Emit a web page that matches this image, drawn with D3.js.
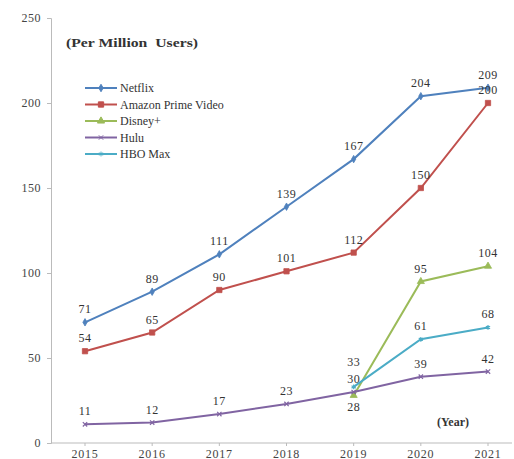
<!DOCTYPE html>
<html><head><meta charset="utf-8">
<script src="https://cdn.jsdelivr.net/npm/d3@7"></script>
<style>body{margin:0;background:#fff}svg{display:block}</style>
</head><body>
<svg id="c" width="514" height="459"></svg>
<script>
const years = ["2015","2016","2017","2018","2019","2020","2021"];
const netflix = [71, 89, 111, 139, 167, 204, 209];
const amazon = [54, 65, 90, 101, 112, 150, 200];
const disney = [null, null, null, null, 28, 95, 104];
const hulu = [11, 12, 17, 23, 30, 39, 42];
const hbomax = [null, null, null, null, 33, 61, 68];
const yTicks = [0, 50, 100, 150, 200, 250];
const seriesNames = ["Netflix", "Amazon Prime Video", "Disney+", "Hulu", "HBO Max"];

const series = [
  {name: seriesNames[0], values: netflix, color: "#4F81BD", marker: "diamond"},
  {name: seriesNames[1], values: amazon, color: "#C0504D", marker: "square"},
  {name: seriesNames[2], values: disney, color: "#9BBB59", marker: "triangle"},
  {name: seriesNames[3], values: hulu, color: "#8064A2", marker: "x"},
  {name: seriesNames[4], values: hbomax, color: "#4BACC6", marker: "star"}
];

const svg = d3.select("#c");
const font = "'Liberation Serif', 'Times New Roman', serif";
const fs = 12;
const x = d3.scalePoint().domain(years).range([85, 488]);
const y = d3.scaleLinear().domain([0, 250]).range([443, 18]);

// axes
const yAxis = svg.append("g").attr("transform", "translate(51,0)")
  .call(d3.axisLeft(y).tickValues(yTicks).tickSize(4).tickPadding(6));
yAxis.select(".domain").attr("stroke", "#bbb");
yAxis.selectAll(".tick line").attr("stroke", "#bbb");
yAxis.selectAll("text").attr("font-family", font).attr("font-size", fs).attr("fill", "#444")
  .attr("letter-spacing", 0.5);

const xg = svg.append("g").attr("transform", "translate(0,443)");
xg.append("line").attr("x1", 51).attr("x2", 512).attr("stroke", "#bbb");
xg.selectAll(".xt").data(years).join("line").attr("class", "xt")
  .attr("x1", d => x(d)).attr("x2", d => x(d)).attr("y1", 0).attr("y2", 3).attr("stroke", "#bbb");
xg.selectAll(".xl").data(years).join("text").attr("class", "xl")
  .attr("x", d => x(d)).attr("y", 14.5).attr("text-anchor", "middle")
  .attr("font-family", font).attr("font-size", fs).attr("letter-spacing", 0.8)
  .attr("fill", "#444").text(d => d);

function markerPath(type) {
  switch (type) {
    case "diamond": return d3.symbol(d3.symbolDiamond, 16)();
    case "square": return d3.symbol(d3.symbolSquare, 28)();
    case "triangle": return d3.symbol(d3.symbolTriangle, 22)();
    case "x": return d3.symbol(d3.symbolX, 14)();
    case "star": return d3.symbol(d3.symbolAsterisk, 16)();
  }
}
const hollow = m => m === "x" || m === "star";

const lineIdx = d3.line().defined(d => d.v != null).x(d => x(d.yr)).y(d => y(d.v));

function labelY(s, d) {
  if (d.yr === "2019" && s.name === "Disney+") return y(d.v) + 16;
  if (d.yr === "2019" && s.name === "HBO Max") return y(d.v) - 21;
  return y(d.v) - 9;
}

series.forEach(s => {
  const pts = s.values.map((v, i) => ({yr: years[i], v}));
  svg.append("path").datum(pts).attr("d", lineIdx).attr("fill", "none")
    .attr("stroke", s.color).attr("stroke-width", 2);
  const g = svg.append("g");
  const valid = pts.filter(d => d.v != null);
  g.selectAll("path").data(valid).join("path")
    .attr("d", markerPath(s.marker))
    .attr("transform", d => `translate(${x(d.yr)},${y(d.v)})`)
    .attr("fill", hollow(s.marker) ? "none" : s.color)
    .attr("stroke", s.color).attr("stroke-width", hollow(s.marker) ? 1.2 : 0.8);
  g.selectAll("text").data(valid).join("text")
    .attr("x", d => x(d.yr))
    .attr("y", d => labelY(s, d))
    .attr("text-anchor", "middle").attr("font-family", font).attr("font-size", fs)
    .attr("letter-spacing", 0.5).attr("fill", "#333").text(d => d.v);
});

// legend
const lg = svg.append("g");
series.forEach((s, i) => {
  const ly = 88 + i * 16.5;
  lg.append("line").attr("x1", 85).attr("x2", 117).attr("y1", ly).attr("y2", ly)
    .attr("stroke", s.color).attr("stroke-width", 2);
  lg.append("path").attr("d", markerPath(s.marker))
    .attr("transform", `translate(101,${ly})`)
    .attr("fill", hollow(s.marker) ? "none" : s.color)
    .attr("stroke", s.color).attr("stroke-width", 1);
  lg.append("text").attr("x", 120).attr("y", ly + 4).attr("font-family", font)
    .attr("font-size", fs).attr("fill", "#333").text(s.name);
});

svg.append("text").attr("x", 66).attr("y", 47).attr("font-family", font)
  .attr("font-size", 12.5).attr("font-weight", "bold").attr("fill", "#333")
  .attr("textLength", 132).attr("lengthAdjust", "spacingAndGlyphs")
  .attr("xml:space", "preserve").text("(Per Million  Users)");
svg.append("text").attr("x", 437).attr("y", 426).attr("font-family", font)
  .attr("font-size", fs).attr("font-weight", "bold").attr("fill", "#333").text("(Year)");
</script>
</body></html>
